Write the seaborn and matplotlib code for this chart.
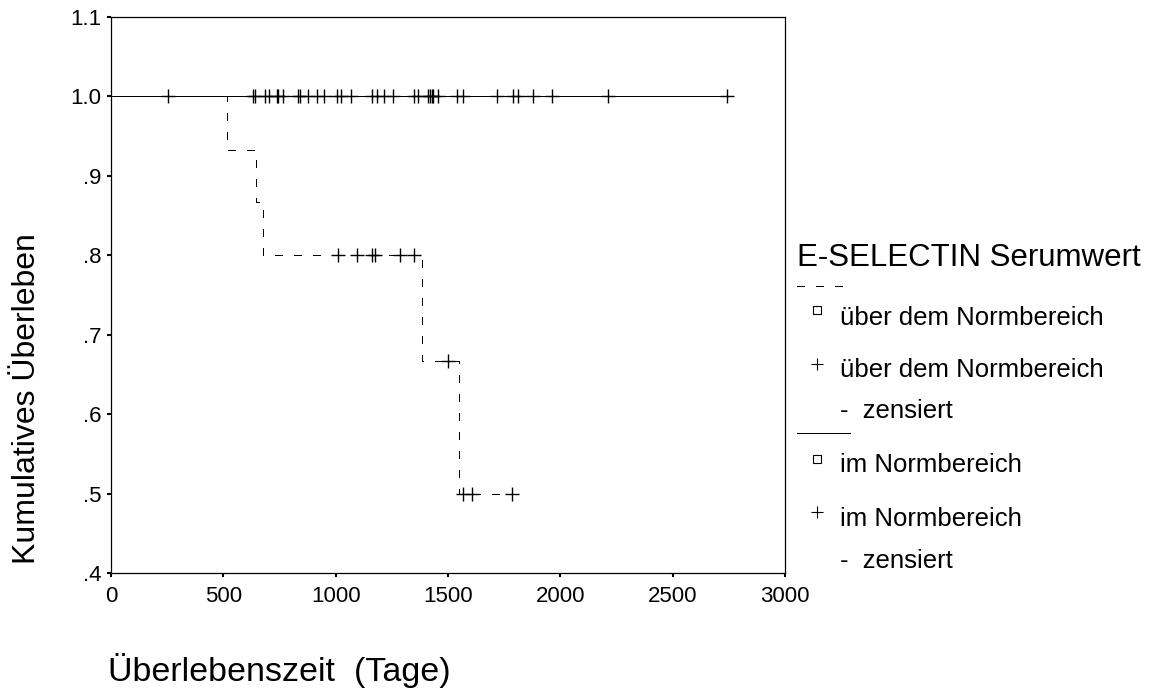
import matplotlib
matplotlib.use("Agg")
import matplotlib.pyplot as plt
from matplotlib.lines import Line2D
import numpy as np
import seaborn as sns

# Kaplan-Meier: E-SELECTIN Serumwert
# group "ueber dem Normbereich" (dashed): step points and censored times
ueber_zeit = [0, 516, 644, 675, 1383, 1550, 1783]
ueber_surv = [1.0, 0.933, 0.867, 0.800, 0.667, 0.500, 0.500]
ueber_zensiert = [1009, 1093, 1160, 1175, 1286, 1350, 1501, 1568, 1605, 1783]

# group "im Normbereich" (solid): no events, only censored times
im_zeit = [0, 2745]
im_surv = [1.0, 1.0]
im_zensiert = [255, 633, 641, 685, 704, 737, 745, 767, 834, 841, 878, 918, 949,
               1004, 1024, 1067, 1160, 1182, 1215, 1256, 1350, 1368, 1412, 1420,
               1427, 1434, 1457, 1538, 1568, 1719, 1790, 1813, 1877, 1961, 2213, 2740]

x_ticks = [0, 500, 1000, 1500, 2000, 2500, 3000]
y_ticks = [0.4, 0.5, 0.6, 0.7, 0.8, 0.9, 1.0, 1.1]
y_ticklabels = [".4", ".5", ".6", ".7", ".8", ".9", "1.0", "1.1"]


def surv_at(zeit, surv, t):
    idx = np.searchsorted(zeit, t, side="right") - 1
    return np.asarray(surv)[idx]


sns.set_style("white")
plt.rcParams["font.family"] = ["Liberation Sans", "DejaVu Sans"]
plt.rcParams["text.color"] = "black"
plt.rcParams["axes.labelcolor"] = "black"

W, H = 1153, 695
fig = plt.figure(figsize=(W / 100, H / 100), dpi=100)
ax = fig.add_axes([111 / W, 1 - 573 / H, 674 / W, 556 / H])

dash = (0, (8, 11))

# step curves
sns.lineplot(x=ueber_zeit, y=ueber_surv, ax=ax, color="black", lw=0.72,
             drawstyle="steps-post", estimator=None, sort=False,
             linestyle=dash, antialiased=False)
sns.lineplot(x=im_zeit, y=im_surv, ax=ax, color="black", lw=0.72,
             drawstyle="steps-post", estimator=None, sort=False, antialiased=False)

# censor marks
sns.scatterplot(x=ueber_zensiert, y=surv_at(ueber_zeit, ueber_surv, ueber_zensiert),
                ax=ax, marker="+", s=95, color="black", linewidth=1.0)
sns.scatterplot(x=im_zensiert, y=surv_at(im_zeit, im_surv, im_zensiert),
                ax=ax, marker="+", s=95, color="black", linewidth=1.0)

ax.set_xlim(0, 3000)
ax.set_ylim(0.4, 1.1)
ax.set_xticks(x_ticks)
ax.set_xticklabels([str(v) for v in x_ticks])
ax.set_yticks(y_ticks)
ax.set_yticklabels(y_ticklabels)
ax.tick_params(direction="out", length=3, width=1.5, color="black",
               labelsize=16, labelcolor="black", pad=4)
ax.tick_params(axis="x", bottom=True, pad=6)
ax.tick_params(axis="y", left=True)
for sp in ax.spines.values():
    sp.set_visible(True)
    sp.set_color("black")
    sp.set_linewidth(0.9)

ax.set_xlabel("Überlebenszeit  (Tage)", fontsize=24.5, ha="left", va="baseline")
ax.xaxis.set_label_coords(-0.0045, -0.1946)
ax.set_ylabel("Kumulatives Überleben", fontsize=23)
ax.yaxis.set_label_coords(-0.1025, 0.3135)

# legend drawn by hand (SPSS style)
def fx(px):
    return px / W


def fy(py):
    return 1 - py / H


fig.text(fx(797), fy(258), "E-SELECTIN Serumwert", fontsize=22.5, va="center", ha="left")
fig.add_artist(Line2D([fx(797), fx(847)], [fy(286), fy(286)], color="black", lw=0.72,
                      linestyle=dash, antialiased=False))
fig.add_artist(Line2D([fx(797), fx(850)], [fy(433), fy(433)], color="black", lw=0.72,
                      antialiased=False))

legend_items = [
    ("s", 310, "über dem Normbereich", 318),
    ("+", 364, "über dem Normbereich", 370),
    (None, None, "-  zensiert", 411),
    ("s", 459, "im Normbereich", 465),
    ("+", 512, "im Normbereich", 519),
    (None, None, "-  zensiert", 561),
]
for marker, my, label, ty in legend_items:
    if marker == "s":
        fig.add_artist(Line2D([fx(817)], [fy(my)], marker="s", markersize=5.5,
                              markerfacecolor="none", markeredgecolor="black",
                              markeredgewidth=0.8, linestyle="none"))
    elif marker == "+":
        fig.add_artist(Line2D([fx(817)], [fy(my)], marker="+", markersize=8,
                              markeredgecolor="black", markeredgewidth=0.8,
                              linestyle="none"))
    fig.text(fx(840), fy(ty), label, fontsize=18.5, va="center", ha="left")

fig.savefig("out.png", dpi=100, facecolor="white")
